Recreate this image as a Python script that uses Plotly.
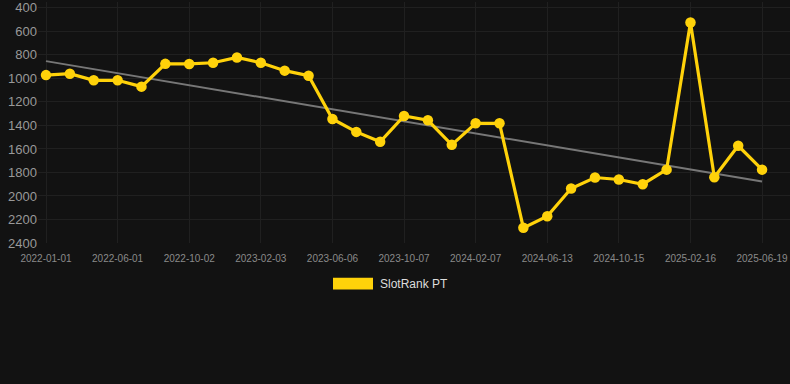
import plotly.graph_objects as go

dates = [
    "2022-01-01", "2022-02-20", "2022-04-11", "2022-06-01", "2022-07-12", "2022-08-22",
    "2022-10-02", "2022-11-12", "2022-12-23", "2023-02-03", "2023-03-16", "2023-04-26",
    "2023-06-06", "2023-07-17", "2023-08-27", "2023-10-07", "2023-11-17", "2023-12-28",
    "2024-02-07", "2024-03-19", "2024-05-03", "2024-06-13", "2024-07-24", "2024-09-03",
    "2024-10-15", "2024-11-25", "2025-01-05", "2025-02-16", "2025-03-29", "2025-05-09",
    "2025-06-19",
]
rank = [
    972, 960, 1016, 1016, 1070, 876, 877, 867, 822, 867, 934, 977,
    1345, 1455, 1539, 1320, 1356, 1565, 1382, 1382, 2271, 2172,
    1936, 1843, 1860, 1900, 1776, 524, 1840, 1573, 1776,
]
trend_dates = ["2022-01-01", "2025-06-19"]
trend_values = [853, 1877]
tick_labels = dates[::3]
y_ticks = [400, 600, 800, 1000, 1200, 1400, 1600, 1800, 2000, 2200, 2400]
series_name = "SlotRank PT"

YELLOW = "#FFD20A"
BG = "#121212"
GRID = "#202020"

fig = go.Figure()
fig.add_trace(go.Scatter(
    x=trend_dates, y=trend_values, mode="lines",
    line=dict(color="#777777", width=2), showlegend=False, hoverinfo="skip",
))
fig.add_trace(go.Scatter(
    x=dates, y=rank, mode="lines+markers", name=series_name,
    line=dict(color=YELLOW, width=3.2),
    marker=dict(color=YELLOW, size=10.5),
    showlegend=False,
))

L, T, B = 38, 0, 141
W, H = 790, 384
pw = W - L
ph = H - T - B

def px_x(p):
    return (p - L) / pw

def px_y(p):
    return (H - B - p) / ph

fig.add_shape(type="rect", xref="paper", yref="paper",
              x0=px_x(333), x1=px_x(373), y0=px_y(290), y1=px_y(278),
              fillcolor=YELLOW, line=dict(width=0))
fig.add_annotation(xref="paper", yref="paper", x=px_x(378), y=px_y(284),
                   text=series_name, showarrow=False, xanchor="left", yanchor="middle",
                   font=dict(size=12, color="#DDDDDD"))

fig.update_layout(
    width=W, height=H,
    margin=dict(l=L, r=0, t=T, b=B),
    paper_bgcolor=BG, plot_bgcolor=BG,
    font=dict(family="Liberation Sans, Arial, sans-serif", color="#999999"),
    xaxis=dict(
        type="category", categoryorder="array", categoryarray=dates,
        range=[-0.335, 31.17],
        tickmode="array", tickvals=tick_labels, ticktext=tick_labels,
        tickfont=dict(size=10, color="#8a8a8a"),
        showgrid=True, gridcolor=GRID, gridwidth=1,
        ticks="outside", ticklen=6, tickcolor="rgba(0,0,0,0)",
        showline=False, zeroline=False, ticklabeloverflow="allow",
    ),
    yaxis=dict(
        autorange=False, range=[2400, 350],
        tickmode="array", tickvals=y_ticks,
        tickfont=dict(size=13, color="#999999"),
        showgrid=True, gridcolor=GRID, gridwidth=1,
        zeroline=False, showline=False, ticklabeloverflow="allow",
    ),
)

fig.write_html(
    "out.html",
    config={"displayModeBar": False},
    post_script="document.body.style.margin='0';document.body.style.background='#121212';",
)
